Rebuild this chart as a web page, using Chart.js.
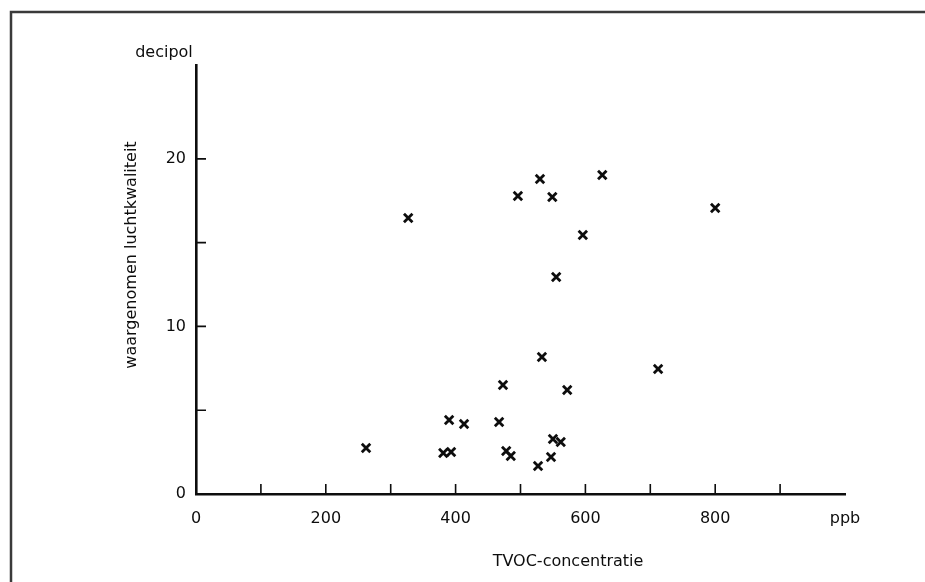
<!DOCTYPE html>
<html lang="nl">

<head>
    <meta charset="UTF-8">
    <title>TVOC-concentratie</title>
    <script src="https://cdn.jsdelivr.net/npm/chart.js"></script>
    <style>
        body { margin: 0; background: #fff; }
        .chart-wrap { width: 925px; height: 582px; }
    </style>
</head>

<body>
    <div class="chart-wrap">
        <canvas id="scatterChart" width="925" height="582"></canvas>
    </div>

    <script>
        // metingen: TVOC (ppb) tegen waargenomen luchtkwaliteit (decipol)
        const tvoc = [262, 327, 381, 393, 390, 413, 467, 473, 478, 485, 496, 527,
                      530, 533, 547, 549, 550, 555, 562, 572, 596, 626, 712, 800];
        const decipol = [2.74, 16.47, 2.45, 2.51, 4.42, 4.18, 4.30, 6.50, 2.57, 2.27, 17.78, 1.67,
                         18.80, 8.18, 2.21, 17.72, 3.28, 12.95, 3.10, 6.21, 15.46, 19.04, 7.46, 17.07];

        // as-labels en streepjes
        const xLabels = [0, 200, 400, 600, 800];
        const xUnit = 'ppb';
        const xMarks = [100, 200, 300, 400, 500, 600, 700, 800, 900];
        const yLabels = [0, 10, 20];
        const yMarks = [5, 10, 15, 20];

        const fontFam = '"DejaVu Sans", sans-serif';
        const ink = '#0d0d0d';

        // kader, teksten en naar binnen wijzende streepjes
        const extras = {
            id: 'extras',
            beforeDraw(chart) {
                const ctx = chart.ctx;
                ctx.save();
                ctx.fillStyle = '#fff';
                ctx.fillRect(0, 0, chart.width, chart.height);
                ctx.restore();
            },
            afterDraw(chart) {
                const ctx = chart.ctx;
                const xs = chart.scales.x, ys = chart.scales.y;
                const area = chart.chartArea;
                ctx.save();

                // kader (boven en links)
                ctx.strokeStyle = '#3a3a3a';
                ctx.lineWidth = 2.5;
                ctx.beginPath();
                ctx.moveTo(11, chart.height);
                ctx.lineTo(11, 12);
                ctx.lineTo(chart.width, 12);
                ctx.stroke();

                // streepjes
                ctx.strokeStyle = ink;
                ctx.lineWidth = 1.6;
                ctx.beginPath();
                xMarks.forEach(v => {
                    const px = xs.getPixelForValue(v);
                    ctx.moveTo(px, area.bottom);
                    ctx.lineTo(px, area.bottom - 10);
                });
                yMarks.forEach(v => {
                    const py = ys.getPixelForValue(v);
                    ctx.moveTo(area.left, py);
                    ctx.lineTo(area.left + 10, py);
                });
                ctx.stroke();

                // teksten
                ctx.fillStyle = ink;
                ctx.font = '16px ' + fontFam;
                ctx.textAlign = 'center';
                ctx.textBaseline = 'middle';
                ctx.fillText('decipol', 164, 53);
                ctx.fillText('TVOC-concentratie', 568, 562);

                ctx.translate(132, 255);
                ctx.rotate(-Math.PI / 2);
                ctx.fillText('waargenomen luchtkwaliteit', 0, 0);
                ctx.restore();
            }
        };

        const ctx = document.getElementById('scatterChart').getContext('2d');
        new Chart(ctx, {
            type: 'scatter',
            data: {
                datasets: [{
                    data: tvoc.map((x, i) => ({ x: x, y: decipol[i] })),
                    pointStyle: 'crossRot',
                    pointRadius: 6,
                    pointBorderWidth: 2.8,
                    borderColor: ink,
                    backgroundColor: ink
                }]
            },
            options: {
                responsive: false,
                animation: false,
                layout: {
                    padding: { left: 0, top: 65, right: 80, bottom: 38 }
                },
                plugins: {
                    legend: { display: false },
                    tooltip: { enabled: false }
                },
                scales: {
                    x: {
                        type: 'linear',
                        min: 0,
                        max: 1000,
                        afterFit: s => { s.height = 50; },
                        border: { color: ink, width: 2.6 },
                        grid: { drawOnChartArea: false, drawTicks: false },
                        ticks: {
                            stepSize: 100,
                            autoSkip: false,
                            maxRotation: 0,
                            padding: 15,
                            color: ink,
                            font: { family: fontFam, size: 16 },
                            callback: v => v === 1000 ? xUnit : (xLabels.includes(v) ? String(v) : '')
                        }
                    },
                    y: {
                        type: 'linear',
                        min: 0,
                        max: 25.6,
                        afterFit: s => { s.width = 196; },
                        border: { color: ink, width: 2.6 },
                        grid: { drawOnChartArea: false, drawTicks: false },
                        ticks: {
                            stepSize: 5,
                            autoSkip: false,
                            padding: 10,
                            color: ink,
                            font: { family: fontFam, size: 16 },
                            callback: v => yLabels.includes(v) ? String(v) : ''
                        }
                    }
                }
            },
            plugins: [extras]
        });
    </script>
</body>

</html>
